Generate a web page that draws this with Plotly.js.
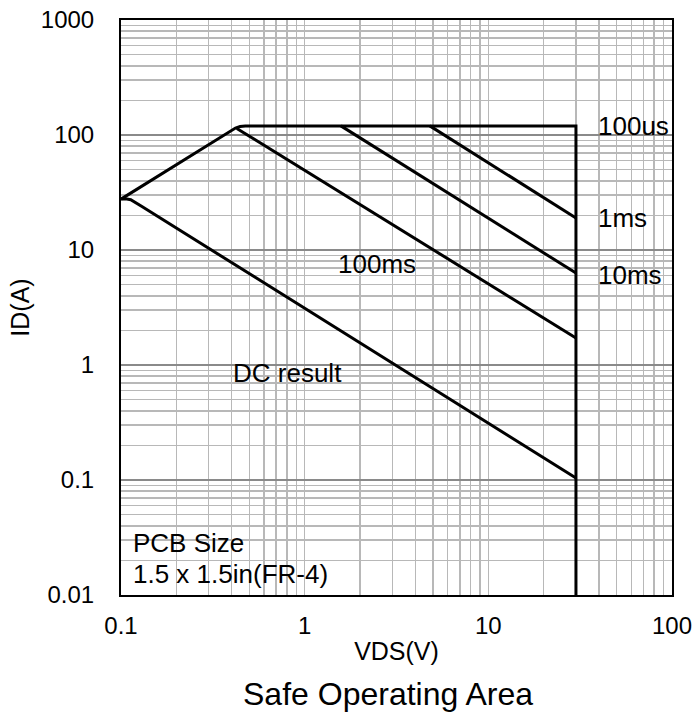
<!DOCTYPE html>
<html>
<head>
<meta charset="utf-8">
<script src="https://cdn.plot.ly/plotly-3.0.1.min.js"></script>
<style>html,body{margin:0;padding:0;background:#fff;}#chart{width:697px;height:720px;}</style>
</head>
<body>
<div id="chart"></div>
<script>
// SOA boundary (100us): RDS(on) limit, current limit, VDS max
const vds100us = [0.1, 0.39, 0.42, 0.445, 0.475, 30, 30];
const id100us  = [27.7, 108, 115, 118.5, 120, 120, 0.01];
// 1ms
const vds1ms = [4.8, 30];
const id1ms  = [120, 19];
// 10ms
const vds10ms = [1.575, 30];
const id10ms  = [120, 6.3];
// 100ms
const vds100ms = [0.427, 30];
const id100ms  = [114, 1.72];
// DC
const vdsDC = [0.1, 0.106, 0.113, 0.12, 0.13, 30];
const idDC  = [27.7, 27.9, 27.4, 26.0, 23.9, 0.104];

const xTickVals = [0.1, 1, 10, 100];
const xTickText = ['0.1', '1', '10', '100'];
const yTickVals = [0.01, 0.1, 1, 10, 100, 1000];
const yTickText = ['0.01', '0.1', '1', '10', '100', '1000'];

const FONT = 'Liberation Sans, Arial, sans-serif';
const lineStyle = {color: '#000', width: 3};

const traces = [
  {x: vds100us, y: id100us, name: '100us'},
  {x: vds1ms, y: id1ms, name: '1ms'},
  {x: vds10ms, y: id10ms, name: '10ms'},
  {x: vds100ms, y: id100ms, name: '100ms'},
  {x: vdsDC, y: idDC, name: 'DC'}
].map(t => Object.assign(t, {type: 'scatter', mode: 'lines', line: lineStyle, hoverinfo: 'skip', cliponaxis: true}));

const annFont = {family: FONT, size: 26, color: '#000'};
function lg(v){ return Math.log10(v); }

const layout = {
  width: 697, height: 720,
  margin: {l: 121, r: 25, t: 20, b: 125},
  paper_bgcolor: '#fff', plot_bgcolor: '#fff',
  showlegend: false,
  font: {family: FONT, color: '#000'},
  title: {
    text: 'Safe Operating Area',
    font: {family: FONT, size: 32, color: '#000'},
    xref: 'container', yref: 'container',
    x: 388/697, xanchor: 'center',
    y: 1 - 694/720, yanchor: 'middle'
  },
  xaxis: {
    type: 'log', range: [-1, 2], autorange: false,
    tickvals: xTickVals, ticktext: xTickText,
    tickfont: {family: FONT, size: 24, color: '#000'},
    ticks: '', ticklabelstandoff: 8,
    showline: true, linecolor: '#000', linewidth: 2, mirror: true,
    showgrid: true, gridcolor: '#b8b8b8', gridwidth: 1.5,
    minor: {dtick: 'D1', showgrid: true, gridcolor: '#b8b8b8', gridwidth: 1.5},
    zeroline: false,
    title: {text: 'VDS(V)', font: {family: FONT, size: 25, color: '#000'}, standoff: 5}
  },
  yaxis: {
    type: 'log', range: [-2, 3], autorange: false,
    tickvals: yTickVals, ticktext: yTickText,
    tickfont: {family: FONT, size: 24, color: '#000'},
    ticks: '', ticklabelstandoff: 20,
    showline: true, linecolor: '#000', linewidth: 2, mirror: true,
    showgrid: true, gridcolor: '#8a8a8a', gridwidth: 1.5,
    minor: {dtick: 'D1', showgrid: true, gridcolor: '#b8b8b8', gridwidth: 1.5},
    zeroline: false,
    title: {text: 'ID(A)', font: {family: FONT, size: 25, color: '#000'}, standoff: 4}
  },
  annotations: [
    {text: '100us', x: lg(39), y: lg(120), xanchor: 'left', yanchor: 'middle'},
    {text: '1ms', x: lg(39), y: lg(19), xanchor: 'left', yanchor: 'middle'},
    {text: '10ms', x: lg(39), y: lg(6.07), xanchor: 'left', yanchor: 'middle'},
    {text: '100ms', x: lg(2.475), y: lg(7.55), xanchor: 'center', yanchor: 'middle'},
    {text: 'DC result', x: lg(0.402), y: lg(0.852), xanchor: 'left', yanchor: 'middle'},
    {text: 'PCB Size', x: lg(0.1148), y: lg(0.0283), xanchor: 'left', yanchor: 'middle'},
    {text: '1.5 x 1.5in(FR-4)', x: lg(0.1148), y: lg(0.01524), xanchor: 'left', yanchor: 'middle'}
  ].map(a => Object.assign(a, {xref: 'x', yref: 'y', showarrow: false, font: annFont, borderpad: 0}))
};

Plotly.newPlot('chart', traces, layout, {staticPlot: true, displayModeBar: false});
</script>
</body>
</html>
